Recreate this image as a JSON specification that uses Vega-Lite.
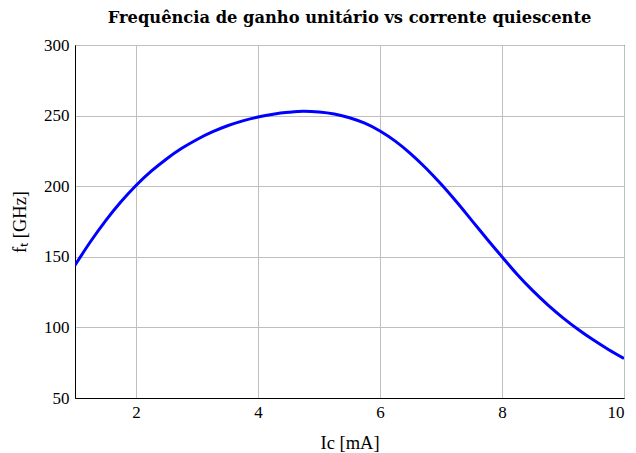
{
  "$schema": "https://vega.github.io/schema/vega-lite/v6.json",
  "autosize": "none",
  "width": 549,
  "height": 353,
  "padding": {"left": 75, "top": 45, "right": 12, "bottom": 55},
  "title": {
    "text": "Frequência de ganho unitário vs corrente quiescente",
    "font": "DejaVu Serif",
    "fontSize": 16.3,
    "fontWeight": "bold",
    "color": "#000000",
    "offset": 10
  },
  "config": {
    "view": {"stroke": "#000000", "strokeWidth": 1},
    "axis": {
      "labelFont": "Liberation Serif",
      "labelFontSize": 17,
      "labelColor": "#000000",
      "titleFont": "Liberation Serif",
      "titleFontSize": 18.5,
      "titleFontWeight": "normal",
      "titleColor": "#000000",
      "domainColor": "#000000",
      "gridColor": "#bfbfbf",
      "gridOpacity": 1,
      "ticks": false
    }
  },
  "data": {
    "values": [
      {"ic": 1.0, "ft": 144},
      {"ic": 1.25, "ft": 160.5},
      {"ic": 1.5, "ft": 175.5},
      {"ic": 1.75, "ft": 188.8},
      {"ic": 2.0, "ft": 200.5},
      {"ic": 2.25, "ft": 210.6},
      {"ic": 2.5, "ft": 219.3},
      {"ic": 2.75, "ft": 226.8},
      {"ic": 3.0, "ft": 233.1},
      {"ic": 3.25, "ft": 238.4},
      {"ic": 3.5, "ft": 242.8},
      {"ic": 3.75, "ft": 246.3},
      {"ic": 4.0, "ft": 249.0},
      {"ic": 4.25, "ft": 251.0},
      {"ic": 4.5, "ft": 252.3},
      {"ic": 4.75, "ft": 253.0},
      {"ic": 5.0, "ft": 252.5},
      {"ic": 5.25, "ft": 251.1},
      {"ic": 5.5, "ft": 248.5},
      {"ic": 5.75, "ft": 244.6},
      {"ic": 6.0, "ft": 239.1},
      {"ic": 6.25, "ft": 231.9},
      {"ic": 6.5, "ft": 223.1},
      {"ic": 6.75, "ft": 212.9},
      {"ic": 7.0, "ft": 201.5},
      {"ic": 7.25, "ft": 189.1},
      {"ic": 7.5, "ft": 176.0},
      {"ic": 7.75, "ft": 162.8},
      {"ic": 8.0, "ft": 150.0},
      {"ic": 8.25, "ft": 137.5},
      {"ic": 8.5, "ft": 126.2},
      {"ic": 8.75, "ft": 116.0},
      {"ic": 9.0, "ft": 106.8},
      {"ic": 9.25, "ft": 98.5},
      {"ic": 9.5, "ft": 91.0},
      {"ic": 9.75, "ft": 84.2},
      {"ic": 10.0, "ft": 78.0}
    ]
  },
  "mark": {"type": "line", "color": "#0000ff", "strokeWidth": 3, "interpolate": "monotone", "clip": true},
  "encoding": {
    "x": {
      "field": "ic",
      "type": "quantitative",
      "scale": {"domain": [1, 10], "nice": false, "zero": false},
      "axis": {"values": [2, 4, 6, 8, 10], "title": "Ic [mA]", "labelPadding": 6, "titlePadding": 13}
    },
    "y": {
      "field": "ft",
      "type": "quantitative",
      "scale": {"domain": [50, 300], "nice": false, "zero": false},
      "axis": {"values": [50, 100, 150, 200, 250, 300], "title": "fₜ [GHz]", "labelPadding": 6, "titlePadding": 14}
    }
  }
}
